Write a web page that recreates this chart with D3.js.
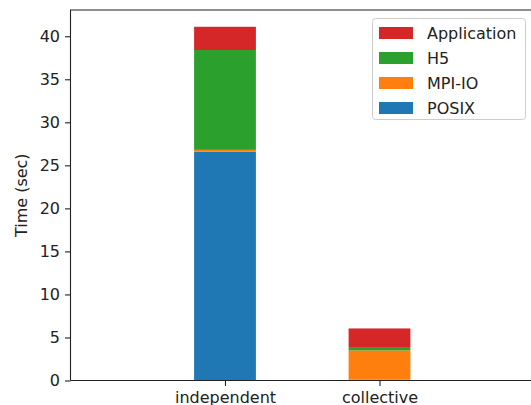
<!DOCTYPE html>
<html><head><meta charset="utf-8">
<script src="https://cdn.jsdelivr.net/npm/d3@7"></script>
<style>body{margin:0;background:#fff}svg{display:block}text{font-family:"DejaVu Sans",sans-serif}</style>
</head><body><svg id="c" width="531" height="405"></svg>
<script>
const categories = ["independent", "collective"];
const seriesNames = ["POSIX", "MPI-IO", "H5", "Application"];
const posix = [26.6, 0.1];
const mpiio = [0.2, 3.4];
const h5 = [11.6, 0.3];
const application = [2.7, 2.25];
const yTicks = [0, 5, 10, 15, 20, 25, 30, 35, 40];
const colors = ["#1f77b4", "#ff7f0e", "#2ca02c", "#d62728"];

const FS = 16;
const svg = d3.select("#c");
const L = 70.5, R = 534, T = 10, B = 380.5;
const x = d3.scaleLinear().domain([-1, 2]).range([L, R]);
const y = d3.scaleLinear().domain([0, 43.05]).range([B, T]);
const barW = 0.4;

const rows = categories.map((c, i) => ({cat: c, i, POSIX: posix[i], "MPI-IO": mpiio[i], H5: h5[i], Application: application[i]}));
const stack = d3.stack().keys(seriesNames)(rows);

svg.append("g").selectAll("g").data(stack).join("g")
  .attr("fill", (d, k) => colors[k])
  .selectAll("rect").data(d => d).join("rect")
  .attr("x", d => x(d.data.i - barW / 2))
  .attr("width", d => x(d.data.i + barW / 2) - x(d.data.i - barW / 2))
  .attr("y", d => y(d[1]))
  .attr("height", d => y(d[0]) - y(d[1]));

// axes
const ya = svg.append("g").attr("transform", `translate(${L},0)`)
  .call(d3.axisLeft(y).tickValues(yTicks).tickSize(5.5).tickPadding(5).tickFormat(d3.format("d")));
ya.select(".domain").remove();
ya.selectAll("text").attr("font-size", FS).attr("fill", "#222").style("font-family", "DejaVu Sans");
ya.selectAll("line").attr("stroke", "#222").attr("stroke-width", 1.1);

const xa = svg.append("g").attr("transform", `translate(0,${B})`)
  .call(d3.axisBottom(x).tickValues([0, 1]).tickSize(5.5).tickPadding(5.5).tickFormat(i => categories[i]));
xa.select(".domain").remove();
xa.selectAll("text").attr("font-size", FS).attr("fill", "#222").style("font-family", "DejaVu Sans");
xa.selectAll("line").attr("stroke", "#222").attr("stroke-width", 1.1);

// spines
svg.append("path").attr("d", `M${L},${B}V${T}H${R}`).attr("fill", "none").attr("stroke", "#222").attr("stroke-width", 1.1);
svg.append("line").attr("x1", L).attr("x2", R).attr("y1", B).attr("y2", B).attr("stroke", "#222").attr("stroke-width", 1.1);

// y label
svg.append("text").attr("transform", `translate(27,${(T + B) / 2}) rotate(-90)`)
  .attr("text-anchor", "middle").attr("font-size", FS).attr("fill", "#222").text("Time (sec)");

// legend
const lg = svg.append("g");
lg.append("rect").attr("x", 372.5).attr("y", 18.5).attr("width", 153).attr("height", 101)
  .attr("rx", 3).attr("fill", "#fff").attr("fill-opacity", 0.8).attr("stroke", "#ccc");
const legOrder = seriesNames.slice().reverse();
legOrder.forEach((n, k) => {
  const cy = 32.5 + k * 25;
  lg.append("rect").attr("x", 379).attr("y", cy - 5.5).attr("width", 34).attr("height", 12)
    .attr("fill", colors[seriesNames.indexOf(n)]);
  lg.append("text").attr("x", 427).attr("y", cy + 6).attr("font-size", FS).attr("fill", "#222").text(n);
});
</script></body></html>
